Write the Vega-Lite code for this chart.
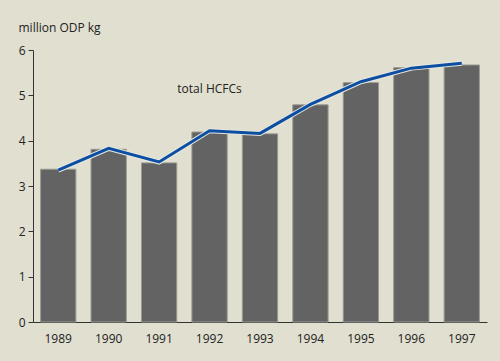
{
  "$schema": "https://vega.github.io/schema/vega-lite/v6.json",
  "width": 454,
  "height": 272,
  "autosize": {"type": "none"},
  "padding": {"left": 33, "top": 50, "right": 13, "bottom": 39},
  "background": "#e0dfd0",
  "config": {
    "view": {"stroke": null},
    "font": "Open Sans",
    "axis": {"labelFont": "Open Sans", "labelFontSize": 12, "labelColor": "#222", "titleFont": "Open Sans", "titleFontSize": 12, "titleFontWeight": "normal", "titleColor": "#222", "grid": false}
  },
  "data": {
    "values": [
      {"year": "1989", "bar": 3.37, "line": 3.35},
      {"year": "1990", "bar": 3.81, "line": 3.83},
      {"year": "1991", "bar": 3.51, "line": 3.53},
      {"year": "1992", "bar": 4.19, "line": 4.22},
      {"year": "1993", "bar": 4.15, "line": 4.16},
      {"year": "1994", "bar": 4.79, "line": 4.8},
      {"year": "1995", "bar": 5.28, "line": 5.3},
      {"year": "1996", "bar": 5.61, "line": 5.6},
      {"year": "1997", "bar": 5.67, "line": 5.71}
    ]
  },
  "encoding": {
    "x": {"field": "year", "type": "ordinal", "scale": {"paddingInner": 0.3, "paddingOuter": 0.15},
      "axis": {"title": null, "labelAngle": 0, "ticks": false, "labelPadding": 11, "domainColor": "#333", "domainWidth": 1}}
  },
  "layer": [
    {
      "mark": {"type": "bar", "color": "#636363", "stroke": "#9a9a92", "strokeWidth": 1},
      "encoding": {
        "y": {"field": "bar", "type": "quantitative", "scale": {"domain": [0, 6], "nice": false},
          "axis": {"title": "million ODP kg", "titleAngle": 0, "titleAlign": "left", "titleBaseline": "alphabetic", "titleX": -15, "titleY": -19, "values": [0,1,2,3,4,5,6], "tickSize": 5, "tickColor": "#333", "domainColor": "#333", "labelPadding": 3}}
      }
    },
    {
      "mark": {"type": "line", "color": "#e8e8e0", "strokeWidth": 5},
      "encoding": {"y": {"field": "line", "type": "quantitative"}}
    },
    {
      "mark": {"type": "line", "color": "#0b4ea2", "strokeWidth": 3},
      "encoding": {"y": {"field": "line", "type": "quantitative"}}
    },
    {
      "data": {"values": [{"year": "1992", "v": 5.14, "label": "total HCFCs"}]},
      "mark": {"type": "text", "fontSize": 12, "color": "#222", "baseline": "middle", "align": "center"},
      "encoding": {"y": {"field": "v", "type": "quantitative"}, "text": {"field": "label"}}
    }
  ]
}
